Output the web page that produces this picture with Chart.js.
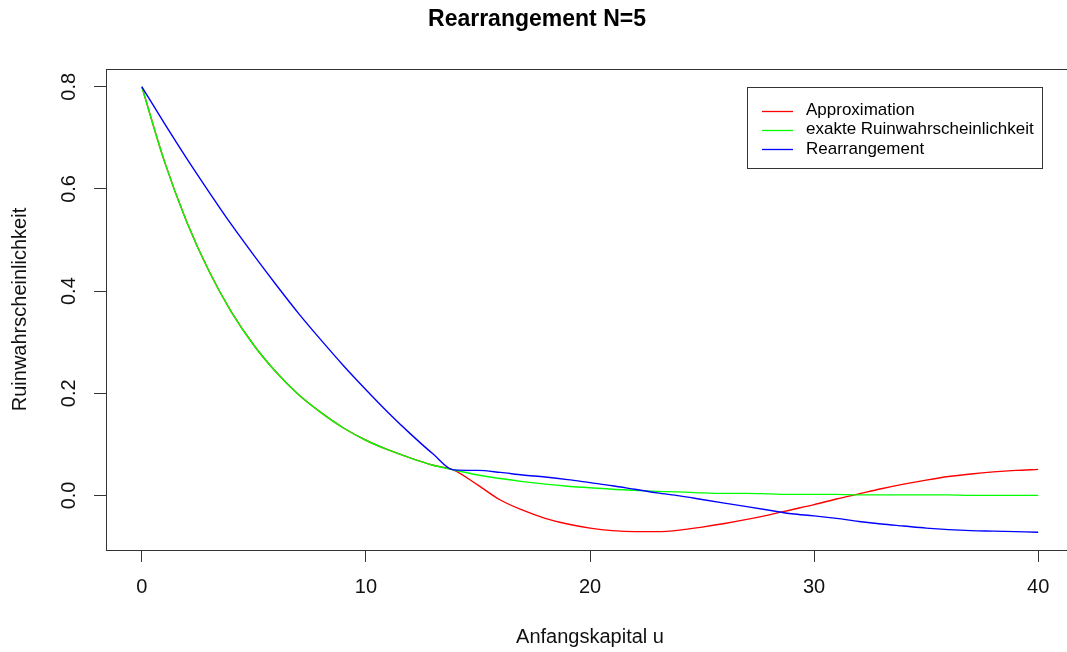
<!DOCTYPE html>
<html><head><meta charset="utf-8">
<script src="https://cdn.jsdelivr.net/npm/chart.js@4/dist/chart.umd.min.js"></script>
<style>html,body{margin:0;padding:0;overflow:hidden;background:#fff;width:1067px;height:652px}canvas{display:block}</style>
</head><body><canvas id="c" width="1080" height="652"></canvas>
<script>
const chartTitle = 'Rearrangement N=5';
const xTitle = 'Anfangskapital u';
const yTitle = 'Ruinwahrscheinlichkeit';
const uValues = [0,1,2,3,4,5,6,7,8,9,10,11,12,13,13.9,15,16,17,18,19,20,21,22,23,24,25,26,27,28,29,30,31,32,33,34,35,36,37,38,39,40];
const approximation = [0.800,0.655,0.536,0.439,0.359,0.294,0.241,0.197,0.162,0.132,0.108,0.089,0.073,0.059,0.050,
  0.020,-0.009,-0.029,-0.045,-0.056,-0.064,-0.069,-0.071,-0.071,-0.068,-0.062,-0.055,-0.047,-0.038,-0.028,-0.018,-0.007,0.003,0.013,0.022,0.030,0.037,0.042,0.046,0.049,0.051];
const exact = [0.800,0.655,0.536,0.439,0.359,0.294,0.241,0.197,0.162,0.132,0.108,0.089,0.073,0.059,0.050,
  0.040,0.033,0.027,0.022,0.018,0.015,0.012,0.010,0.008,0.007,0.005,0.004,0.004,0.003,0.002,0.002,0.002,0.001,0.001,0.001,0.001,0.001,0.000,0.000,0.000,0.000];
const rearrangement = [0.800,0.729,0.660,0.594,0.530,0.470,0.412,0.356,0.304,0.254,0.207,0.162,0.120,0.081,0.050,
  0.049,0.045,0.040,0.036,0.031,0.025,0.019,0.012,0.005,-0.001,-0.008,-0.015,-0.022,-0.029,-0.036,-0.040,-0.045,-0.051,-0.056,-0.060,-0.064,-0.067,-0.069,-0.070,-0.071,-0.072];
const seriesNames = ['Approximation','exakte Ruinwahrscheinlichkeit','Rearrangement'];
const seriesColors = ['#FF0000','#00FF00','#0000FF'];
const xTicks = [0,10,20,30,40];
const yTicks = [0,0.2,0.4,0.6,0.8];
const xRange = [-1.6, 41.6];
const yRange = [-0.10688, 0.83488];
const legendAnchor = {x: 27, y: 0.8};

const FONT = "'Liberation Sans', Arial, Helvetica, sans-serif";
const toPts = arr => arr.map((v, i) => ({x: uValues[i], y: v}));
const seriesData = [approximation, exact, rearrangement];

const boxPlugin = {
  id: 'rbox',
  afterDraw(chart) {
    const {ctx, chartArea: a} = chart;
    ctx.save();
    ctx.strokeStyle = '#333';
    ctx.lineWidth = 1;
    ctx.strokeRect(Math.round(a.left) + 0.5, Math.round(a.top) + 0.5, Math.round(a.right - a.left), Math.round(a.bottom - a.top));
    ctx.restore();
  }
};

const legendPlugin = {
  id: 'rlegend',
  afterDraw(chart) {
    const {ctx} = chart;
    const xs = chart.scales.x, ys = chart.scales.y;
    const L = Math.round(xs.getPixelForValue(legendAnchor.x));
    const T = Math.round(ys.getPixelForValue(legendAnchor.y));
    const W = 295, H = 81;
    ctx.save();
    ctx.fillStyle = '#fff';
    ctx.fillRect(L, T, W, H);
    ctx.strokeStyle = '#333';
    ctx.lineWidth = 1;
    ctx.strokeRect(L + 0.5, T + 0.5, W, H);
    ctx.font = '17px ' + FONT;
    ctx.textBaseline = 'middle';
    ctx.textAlign = 'left';
    chart.data.datasets.forEach((ds, i) => {
      const y = T + 23.5 + i * 19.2;
      ctx.strokeStyle = ds.borderColor;
      ctx.lineWidth = 1.3;
      ctx.beginPath();
      ctx.moveTo(L + 15, Math.round(y) + 0.5);
      ctx.lineTo(L + 46, Math.round(y) + 0.5);
      ctx.stroke();
      ctx.fillStyle = '#000';
      ctx.fillText(ds.label, L + 59, y);
    });
    ctx.restore();
  }
};

new Chart(document.getElementById('c'), {
  type: 'scatter',
  data: {
    datasets: seriesData.map((arr, i) => ({
      label: seriesNames[i],
      data: toPts(arr),
      showLine: true,
      borderColor: seriesColors[i],
      backgroundColor: seriesColors[i],
      borderWidth: 1.4,
      pointRadius: 0,
      cubicInterpolationMode: 'monotone',
      order: 3 - i
    }))
  },
  options: {
    responsive: false,
    animation: false,
    devicePixelRatio: 1,
    layout: {padding: {left: 0, right: 6, top: 0, bottom: 0}},
    plugins: {
      legend: {display: false},
      tooltip: {enabled: false},
      title: {
        display: true, text: chartTitle, color: '#000',
        font: {family: FONT, size: 23, weight: 'bold', lineHeight: 1.2},
        padding: {top: 6, bottom: 35.4}
      }
    },
    scales: {
      x: {
        type: 'linear', min: xRange[0], max: xRange[1],
        afterBuildTicks: s => { s.ticks = xTicks.map(v => ({value: v})); },
        afterFit: s => { s.height = 102; },
        grid: {drawOnChartArea: false, drawTicks: true, tickLength: 12, color: '#333', lineWidth: 1},
        border: {display: true, color: '#333', width: 1},
        ticks: {font: {family: FONT, size: 20}, color: '#111', padding: 13, maxRotation: 0, minRotation: 0,
          callback: v => String(v)},
        title: {display: true, text: xTitle, color: '#111', font: {family: FONT, size: 20}, padding: {top: 0, bottom: 3}}
      },
      y: {
        type: 'linear', min: yRange[0], max: yRange[1],
        afterBuildTicks: s => { s.ticks = yTicks.map(v => ({value: v})); },
        afterFit: s => { s.width = 106; },
        grid: {drawOnChartArea: false, drawTicks: true, tickLength: 12, color: '#333', lineWidth: 1},
        border: {display: true, color: '#333', width: 1},
        ticks: {font: {family: FONT, size: 20}, color: '#111', padding: 11, minRotation: 90, maxRotation: 90,
          crossAlign: 'center', callback: v => Number(v).toFixed(1)},
        title: {display: true, text: yTitle, color: '#111', font: {family: FONT, size: 20}, padding: {top: 8, bottom: 0}}
      }
    }
  },
  plugins: [boxPlugin, legendPlugin]
});
</script></body></html>
